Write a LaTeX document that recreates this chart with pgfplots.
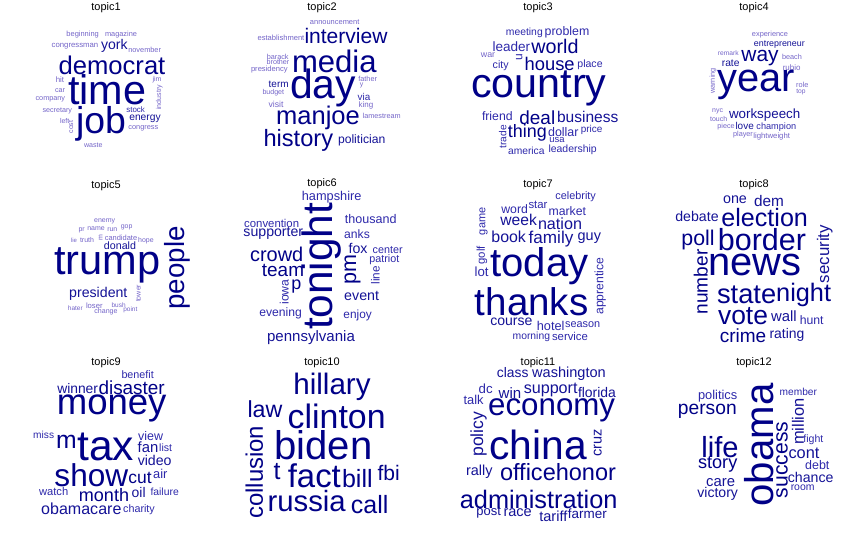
\documentclass[border=0pt]{standalone}
\usepackage{pgfplots}
\usepackage{pgfplotstable}
\pgfplotsset{compat=1.18}
\usepackage{fontspec}
\setmainfont{Liberation Sans}
\definecolor{col0}{RGB}{0,0,0}
\definecolor{col1}{RGB}{115,100,200}
\definecolor{col2}{RGB}{45,40,170}
\definecolor{col3}{RGB}{20,18,150}
\definecolor{col4}{RGB}{0,0,135}

\pgfplotstableread{
x y s r c w
318 22 11 0 0 topic1
248 104 7.5 0 1 beginning
363 104 7.4 0 1 magazine
225 140 7.8 0 1 congressman
343 137 14.1 0 3 york
434 150 7.4 0 1 november
336 195 25.7 0 4 democrat
322 268 41.5 0 4 time
303 372 37.5 0 4 job
180 240 7.9 0 1 hit
180 272 7.2 0 1 car
151 298 7.3 0 1 company
172 332 7.2 0 1 secretary
194 362 7 0 1 left
213 381 7 90 1 cost
471 240 7 0 1 jim
478 292 7.1 90 1 industry
407 330 8 0 2 stock
435 355 10.3 0 3 energy
430 386 7.4 0 1 congress
280 437 7.1 0 1 waste
}\tA
\pgfplotstableread{
x y s r c w
318 22 11 0 0 topic2
356 65 7.5 0 1 announcement
195 113 7.6 0 1 establishment
390 107 21.1 0 4 interview
185 170 7.3 0 1 barack
186 187 7.2 0 1 brother
160 210 7.6 0 1 presidency
355 185 31.2 0 4 media
188 252 10 0 3 term
172 278 7.1 0 1 budget
180 313 8.7 0 1 visit
321 265 41 0 4 day
455 237 7.3 0 1 father
437 256 7 0 1 y
444 290 9.9 0 2 via
450 315 8 0 1 king
497 348 7.3 0 1 lamestream
306 355 25.6 0 4 manjoe
247 420 23.7 0 4 history
437 420 12.2 0 3 politician
}\tB
\pgfplotstableread{
x y s r c w
318 22 11 0 0 topic3
277 97 10.4 0 2 meeting
405 97 12.4 0 2 problem
238 140 13.6 0 2 leader
369 140 19.8 0 4 world
168 165 8.9 0 1 war
262 172 12 90 2 u
206 197 10.7 0 2 city
353 192 18.4 0 4 house
474 195 10.6 0 2 place
321 265 41.4 0 4 country
196 348 12.3 0 2 friend
316 352 19 0 4 deal
467 352 15.6 0 3 business
212 410 10.2 90 2 trade
286 400 18 0 4 thing
394 395 12.5 0 2 dollar
479 390 10 0 2 price
375 420 9.5 0 2 usa
283 452 10.3 0 2 america
422 450 10.5 0 2 leadership
}\tC
\pgfplotstableread{
x y s r c w
318 22 11 0 0 topic4
366 104 7.4 0 1 experience
394 135 8.9 0 3 entrepreneur
241 160 6.7 0 1 remark
336 175 21 0 4 way
432 172 7.3 0 1 beach
248 190 10.3 0 3 rate
431 203 8 0 1 rubio
195 243 7.3 90 1 warning
325 255 40 0 4 year
463 255 7.4 0 1 role
459 275 6.7 0 1 top
209 335 7 0 1 nyc
212 358 7 0 1 touch
350 345 13.4 0 3 workspeech
234 380 7.2 0 1 piece
290 378 10 0 3 love
385 381 9.2 0 2 champion
285 405 7.3 0 1 player
371 410 7.8 0 1 lightweight
}\tD
\pgfplotstableread{
x y s r c w
318 22 11 0 0 topic5
314 131 7 0 1 enemy
245 158 7 0 1 pr
288 153 7 0 1 name
337 155 7 0 1 run
380 147 7 0 1 gop
222 188 6 0 1 lie
261 187 7 0 1 truth
302 178 7 90 1 m
363 178 7.5 0 1 candidate
438 188 7 0 1 hope
360 202 10.7 0 3 donald
322 262 41.7 0 4 trump
532 270 27.8 90 4 people
295 348 14.2 0 3 president
415 346 7.1 90 1 tower
226 390 6.5 0 1 hater
283 382 7.7 0 1 loser
318 402 7.1 0 1 change
356 383 6.5 0 1 bush
391 395 6.5 0 1 point
}\tE
\pgfplotstableread{
x y s r c w
318 18 11 0 0 topic6
347 57 12.8 0 2 hampshire
318 265 42.5 90 4 tonight
167 135 11.4 0 2 convention
464 123 12.6 0 2 thousand
172 165 14.2 0 3 supporter
423 167 12.2 0 2 anks
426 212 14.2 0 3 fox
515 217 10.8 0 2 center
505 245 10.8 0 2 patriot
182 230 20 0 4 crowd
410 275 21.6 90 4 pm
478 292 11.8 90 2 line
201 278 19 0 4 team
241 325 18 0 4 p
205 342 12.2 90 2 iowa
437 355 14.3 0 3 event
194 405 12.2 0 2 evening
425 413 11.9 0 2 enjoy
285 480 15.1 0 3 pennsylvania
}\tF
\pgfplotstableread{
x y s r c w
318 20 11 0 0 topic7
431 55 10.9 0 2 celebrity
248 92 12.3 0 2 word
318 82 11.4 0 2 star
406 100 12.3 0 2 market
155 130 11 90 2 game
150 232 11.4 90 2 golf
260 127 15.7 0 3 week
384 137 16.2 0 3 nation
230 177 16 0 3 book
357 182 17.2 0 3 family
472 180 14.5 0 3 guy
149 282 13.3 0 2 lot
322 265 40.2 0 4 today
505 325 12.2 90 2 apprentice
299 370 38.7 0 4 thanks
238 432 14.1 0 3 course
356 443 12.8 0 2 hotel
452 441 10.9 0 2 season
298 475 10.4 0 2 morning
414 475 11.4 0 2 service
}\tG
\pgfplotstableread{
x y s r c w
318 20 11 0 0 topic8
261 65 14.4 0 3 one
363 70 15.4 0 3 dem
147 115 14.2 0 3 debate
350 120 25.2 0 4 election
150 185 21.4 0 4 poll
342 185 30.6 0 4 border
530 228 16.9 90 3 security
158 312 19.2 90 4 number
320 262 40 0 4 news
296 350 27.4 0 4 state
467 352 25.4 0 4 night
285 415 26.5 0 4 vote
408 415 14.9 0 3 wall
491 425 12.3 0 2 hunt
285 472 19.1 0 4 crime
417 470 14 0 3 rating
}\tH
\pgfplotstableread{
x y s r c w
318 22 11 0 0 topic9
413 58 10.8 0 2 benefit
233 100 13.9 0 3 winner
395 98 19 0 4 disaster
335 160 36.7 0 4 money
131 240 10.2 0 2 miss
199 262 24.8 0 4 m
317 275 42.7 0 4 tax
452 242 12.5 0 2 view
444 277 14.9 0 3 fan
497 278 10.6 0 2 list
464 317 14.2 0 3 video
274 362 31.7 0 4 show
420 368 17.5 0 4 cut
481 358 12.9 0 2 air
161 410 11.2 0 2 watch
312 420 18.1 0 4 month
416 412 14 0 3 oil
494 410 10.4 0 2 failure
244 462 16.1 0 3 obamacare
417 465 10.8 0 2 charity
}\tI
\pgfplotstableread{
x y s r c w
318 22 11 0 0 topic10
348 95 29.7 0 4 hillary
147 162 23.3 0 4 law
362 185 34 0 4 clinton
115 352 24 90 4 collusion
322 270 40.2 0 4 biden
183 350 25 0 4 t
295 362 33 0 4 fact
424 370 25.1 0 4 bill
518 355 21.1 0 4 fbi
272 438 29.4 0 4 russia
461 450 25.1 0 4 call
}\tJ
\pgfplotstableread{
x y s r c w
318 22 11 0 0 topic11
242 52 13.9 0 3 class
411 55 14.6 0 3 washington
161 100 13.3 0 2 dc
125 135 12.9 0 2 talk
234 113 15.1 0 3 win
356 105 16.2 0 3 support
495 113 14 0 3 florida
359 165 31.4 0 4 economy
140 238 17.6 90 3 policy
318 270 40.9 0 4 china
497 263 14.6 90 3 cruz
142 350 14.5 0 3 rally
378 352 23.6 0 4 officehonor
320 432 25.4 0 4 administration
170 472 13 0 3 post
257 472 14.6 0 3 race
364 483 14.6 0 3 tariff
466 475 13.5 0 3 farmer
}\tK
\pgfplotstableread{
x y s r c w
318 22 11 0 0 topic12
209 125 12.9 0 2 politics
451 112 10.2 0 2 member
178 168 19.3 0 4 person
333 270 40.3 90 4 obama
450 200 16.5 90 3 million
402 315 21.2 90 4 success
496 255 10.6 0 2 fight
216 275 29.2 0 4 life
468 295 16.4 0 3 cont
209 330 18.2 0 4 story
508 330 12.5 0 2 debt
488 367 14.2 0 3 chance
218 382 14.9 0 3 care
464 398 10.5 0 2 room
209 418 14.1 0 3 victory
}\tL

\newcommand{\layer}[4]{%
\addplot[only marks, mark=none, nodes near coords, point meta=explicit symbolic,
  restrict expr to domain={\thisrow{c}}{#4:#4},
  visualization depends on={\thisrow{s}\as\fs},
  visualization depends on={\thisrow{r}\as\rot},
  nodes near coords style={anchor=center, inner sep=0pt, font=\fontsize{\fs}{\fs}\selectfont, rotate=\rot, text=col#4}]
  table[x expr=\thisrow{x}/3+#1, y expr=\thisrow{y}/3+#2, meta=w] {#3};}
\newcommand{\panel}[3]{\layer{#1}{#2}{#3}{0}\layer{#1}{#2}{#3}{1}\layer{#1}{#2}{#3}{2}\layer{#1}{#2}{#3}{3}\layer{#1}{#2}{#3}{4}}

\begin{document}
\begin{tikzpicture}
\begin{axis}[x=1bp, y=1bp, y dir=reverse, xmin=0, xmax=864, ymin=0, ymax=533,
  hide axis, clip=false]
\addplot[draw=none, forget plot] coordinates {(0,0) (864,533)};
\panel{0}{0}{\tA}
\panel{216}{0}{\tB}
\panel{432}{0}{\tC}
\panel{648}{0}{\tD}
\panel{0}{178}{\tE}
\panel{216}{178}{\tF}
\panel{432}{178}{\tG}
\panel{648}{178}{\tH}
\panel{0}{355}{\tI}
\panel{216}{355}{\tJ}
\panel{432}{355}{\tK}
\panel{648}{355}{\tL}
\end{axis}
\end{tikzpicture}
\end{document}
